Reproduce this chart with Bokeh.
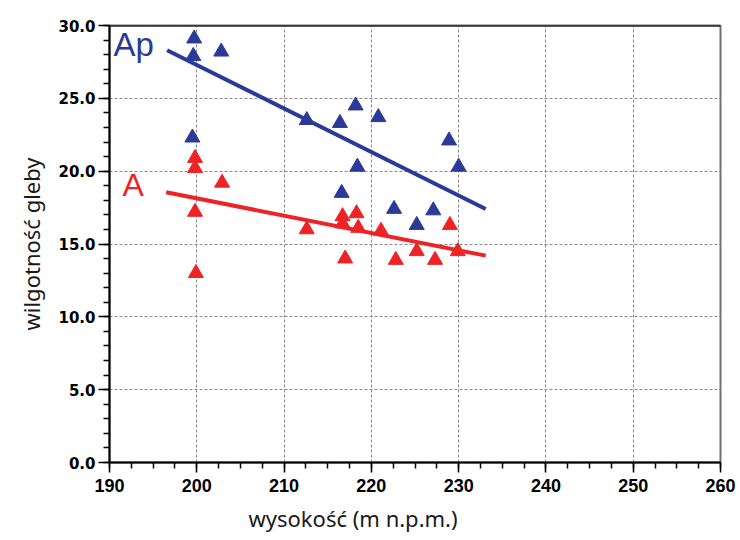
from bokeh.plotting import figure
from bokeh.models import Range1d, SingleIntervalTicker, NumeralTickFormatter, Label, Span, Title
from bokeh.embed import file_html
from bokeh.resources import INLINE

# --- data ---
alt_ap = [199.7, 199.6, 202.8, 199.5, 212.6, 216.4, 218.2, 220.8, 228.9, 218.4, 230.0, 216.6, 222.6, 227.1, 225.2]
moist_ap = [29.1, 27.9, 28.2, 22.3, 23.5, 23.3, 24.5, 23.7, 22.1, 20.3, 20.3, 18.5, 17.4, 17.3, 16.3]

alt_a = [199.8, 199.8, 202.9, 199.8, 199.9, 212.6, 216.7, 216.7, 218.3, 218.5, 217.0, 221.1, 222.8, 225.2, 227.3, 229.0, 229.9]
moist_a = [20.9, 20.2, 19.2, 17.2, 13.0, 16.0, 16.9, 16.4, 17.1, 16.1, 14.0, 15.9, 13.9, 14.5, 13.9, 16.3, 14.5]

fit_ap_x = [196.6, 233.1]
fit_ap_y = [28.3, 17.4]
fit_a_x = [196.5, 233.1]
fit_a_y = [18.55, 14.2]

series_labels = ["Ap", "A"]
x_title = "wysokość (m n.p.m.)"
y_title = "wilgotność gleby"

BLUE = "#2B3A98"
RED = "#EE2326"

p = figure(width=740, height=540,
           x_range=Range1d(190, 260), y_range=Range1d(0, 30),
           output_backend="svg", toolbar_location=None,
           min_border_left=109, min_border_right=20,
           min_border_top=25, min_border_bottom=78,
           background_fill_color="white", border_fill_color="white")

p.outline_line_color = "#707070"
p.outline_line_width = 2

# axes
xt = SingleIntervalTicker(interval=10, num_minor_ticks=4)
yt = SingleIntervalTicker(interval=5, num_minor_ticks=5)
p.xaxis.ticker = xt
p.yaxis.ticker = yt
p.xgrid.ticker = xt
p.ygrid.ticker = yt
p.yaxis.formatter = NumeralTickFormatter(format="0.0")

for ax in (p.xaxis[0], p.yaxis[0]):
    ax.axis_line_color = "black"
    ax.axis_line_width = 2
    ax.major_tick_line_color = "black"
    ax.minor_tick_line_color = "black"
    ax.major_tick_line_width = 1.5
    ax.minor_tick_line_width = 1.5
    ax.major_tick_in = 0
    ax.minor_tick_in = 0
    ax.major_label_text_color = "black"
    ax.major_label_text_font_style = "bold"

p.yaxis.major_tick_out = 11
p.yaxis.minor_tick_out = 6
p.yaxis.major_label_text_font = "DejaVu Sans"
p.yaxis.major_label_text_font_size = "15px"
p.yaxis.major_label_standoff = 3
p.yaxis.axis_label = y_title
p.yaxis.axis_label_text_font = "Noto Sans"
p.yaxis.axis_label_text_font_style = "normal"
p.yaxis.axis_label_text_font_size = "22px"
p.yaxis.axis_label_text_color = "#1a1a1a"
p.yaxis.axis_label_standoff = 9

p.xaxis.major_tick_out = 10
p.xaxis.minor_tick_out = 6
p.xaxis.major_label_text_font = "Liberation Sans"
p.xaxis.major_label_text_font_size = "18px"
p.xaxis.major_label_standoff = 6

for g in (p.xgrid[0], p.ygrid[0]):
    g.grid_line_color = "#8a8a8a"
    g.grid_line_dash = "3 2"
    g.grid_line_width = 1

# top border
p.add_layout(Span(location=30, dimension="width", line_color="black", line_width=2))

# fitted lines
p.line(fit_ap_x, fit_ap_y, line_color=BLUE, line_width=4)
p.line(fit_a_x, fit_a_y, line_color=RED, line_width=4)

# points
p.scatter(alt_ap, moist_ap, marker="triangle", size=15, fill_color=BLUE, line_color=BLUE)
p.scatter(alt_a, moist_a, marker="triangle", size=15, fill_color=RED, line_color=RED)

# series labels
p.add_layout(Label(x=190.45, y=28.7, text=series_labels[0], text_color=BLUE,
                   text_font="Liberation Sans", text_font_size="33px",
                   text_baseline="alphabetic", text_align="left"))
p.add_layout(Label(x=191.5, y=19.05, text=series_labels[1], text_color=RED,
                   text_font="Liberation Sans", text_font_size="32px",
                   text_baseline="alphabetic", text_align="left"))

# x axis title (placed left of the frame centre as in the reference)
p.add_layout(Title(text=x_title, align="left", offset=139, standoff=13,
                   text_font="Noto Sans", text_font_size="22px",
                   text_font_style="normal", text_color="#1a1a1a"), "below")

open("out.html", "w").write(file_html(p, INLINE))
